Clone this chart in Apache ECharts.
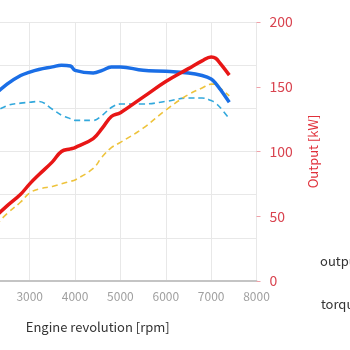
<!DOCTYPE html>
<html>
<head>
<meta charset="utf-8">
<script src="https://cdn.jsdelivr.net/npm/echarts@6/dist/echarts.min.js"></script>
<style>
html,body{margin:0;padding:0;width:350px;height:350px;overflow:hidden;background:#fff;}
#chart{position:absolute;left:-120px;top:0;width:520px;height:350px;}
</style>
</head>
<body>
<div id="chart"></div>
<script>
// engine revolution [rpm]
var rpm = [1000,1500,2000,2500,2800,3000,3200,3500,3700,3900,4000,4400,4600,4800,5000,5500,6000,6500,6800,7000,7100,7200,7400];
// output [kW] (right axis)
var outputA = [15,28,42,58,67,75,82,92,100,102,103,110,118,127,130,142,154,164,170,173,172,168,159];
var outputB = [12,24,35,52,61,68,71,73,75,77,78,87,96,103,107,118,132,144,149,152,152,149,143];
// torque [Nm] (left axis)
var torqueA = [140,178,205,228,238,242,245,248,250,249,244,241,244,248,248,244,243,241,238,234,229,222,207];
var torqueB = [110,150,187,203,206,207,208,199,192,188,186,186,192,201,205,205,208,212,212,209,206,201,188];
var xTicks = [1000,8000,1000];
var rightTicks = [0,200,50];
var leftTicks = [0,300,50];

function pairs(vals){ return rpm.map(function(r,i){ return [r, vals[i]]; }); }

var font = 'Noto Sans CJK JP';
var chart = echarts.init(document.getElementById('chart'), null, {renderer:'canvas'});
chart.setOption({
  animation:false,
  textStyle:{fontFamily:font},
  legend:{
    orient:'vertical', left:435, top:249, align:'right', itemGap:30,
    itemWidth:25, itemHeight:14,
    textStyle:{fontFamily:font, fontSize:13, color:'#333'},
    data:['output','torque']
  },
  grid:{left:59, right:143.5, top:22, bottom:69, containLabel:false, outerBoundsMode:'none'},
  xAxis:[{
    type:'value', min:xTicks[0], max:xTicks[1], interval:xTicks[2],
    name:'Engine revolution [rpm]', nameLocation:'middle', nameGap:40,
    nameTextStyle:{fontFamily:font, fontSize:13, color:'#333'},
    axisLine:{show:true, lineStyle:{color:'#d9d9d9', width:2}},
    axisTick:{show:false},
    axisLabel:{fontFamily:font, fontSize:12, color:'#a0a0a0', margin:9, formatter:function(v){return String(v);}},
    splitLine:{show:true, lineStyle:{color:'#e8e8e8', width:1}}
  },{
    type:'value', position:'top', min:xTicks[0], max:xTicks[1],
    axisLine:{show:true, lineStyle:{color:'#bdbdbd', width:1.5}},
    axisTick:{show:false}, axisLabel:{show:false}, splitLine:{show:false}
  }],
  yAxis:[{
    type:'value', position:'left', min:leftTicks[0], max:leftTicks[1], interval:leftTicks[2],
    name:'Torque [Nm]', nameLocation:'middle', nameGap:45,
    axisLine:{show:false}, axisTick:{show:false},
    axisLabel:{color:'#3a6fd8', fontSize:13},
    splitLine:{show:true, lineStyle:{color:'#e8e8e8', width:1}}
  },{
    type:'value', position:'right', min:rightTicks[0], max:rightTicks[1], interval:rightTicks[2],
    name:'Output [kW]', nameLocation:'middle', nameGap:50, nameRotate:90,
    nameTextStyle:{fontFamily:font, fontSize:13, color:'#e0303a'},
    axisLine:{show:false},
    axisTick:{show:true, length:4, lineStyle:{color:'#f0a0a8'}},
    axisLabel:{fontFamily:font, fontSize:14, color:'#d9434f', margin:13},
    splitLine:{show:false}
  }],
  series:[
    {name:'torque B', type:'line', yAxisIndex:0, smooth:0.4, showSymbol:false,
     data:pairs(torqueB), lineStyle:{color:'#32a8dc', width:1.6, type:[6,4]}, itemStyle:{color:'#32a8dc'}},
    {name:'output B', type:'line', yAxisIndex:1, smooth:0.4, showSymbol:false,
     data:pairs(outputB), lineStyle:{color:'#eec33c', width:1.6, type:[6,4]}, itemStyle:{color:'#eec33c'}},
    {name:'torque', type:'line', yAxisIndex:0, smooth:0.4, showSymbol:false,
     data:pairs(torqueA), lineStyle:{color:'#1a6ee6', width:3.5}, itemStyle:{color:'#1a6ee6'}},
    {name:'output', type:'line', yAxisIndex:1, smooth:0.4, showSymbol:false,
     data:pairs(outputA), lineStyle:{color:'#e81616', width:3.5}, itemStyle:{color:'#e81616'}}
  ]
});
</script>
</body>
</html>
